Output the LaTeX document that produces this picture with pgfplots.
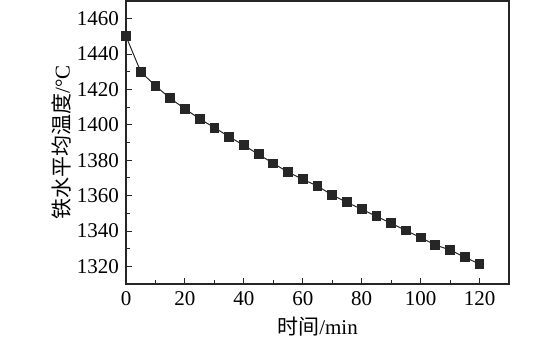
\documentclass[border=0pt]{standalone}
\usepackage{fontspec}
\setmainfont{Liberation Serif}
\newfontfamily\cjk{Noto Sans CJK SC}
\usepackage{pgfplots}
\pgfplotsset{compat=1.18}
\begin{document}
\begin{tikzpicture}
\begin{axis}[
  scale only axis,
  width=191.4pt, height=141.5pt,
  xmin=0, xmax=130, ymin=1310, ymax=1470,
  xtick={0,20,...,120}, ytick={1320,1340,...,1460},
  minor x tick num=1, minor y tick num=1,
  tick align=inside,
  xtick pos=bottom, ytick pos=left,
  major tick length=3pt, minor tick length=1.8pt,
  axis line style={line width=0.6pt, black!85},
  tick style={black!85, line width=0.5pt},
  /pgf/number format/assume math mode=true,
  /pgf/number format/1000 sep={},
  ticklabel style={font=\fontsize{10.5}{12}\selectfont},
  xlabel={{\cjk 时间}/min},
  ylabel={{\cjk 铁水平均温度}/°C},
  label style={font=\fontsize{10.5}{12}\selectfont},
  xlabel style={yshift=1pt},
  ylabel style={yshift=-4pt},
]
\addplot[black!85, line width=0.5pt, mark=square*, mark size=2.2pt, mark options={fill=black!85}]
coordinates {
(0,1450) (5,1430) (10,1422) (15,1415) (20,1409) (25,1403.4) (30,1398.4)
(35,1393.3) (40,1388.4) (45,1383.3) (50,1378.2) (55,1373.3) (60,1369.2)
(65,1365.4) (70,1360.3) (75,1356.2) (80,1352.3) (85,1348.3) (90,1344.4)
(95,1340.3) (100,1336.3) (105,1332.1) (110,1329.3) (115,1325.2) (120,1321.3)
};
\end{axis}
\path ([xshift=-63pt,yshift=-27pt]current axis.south west) rectangle ([xshift=25.5pt,yshift=0.5pt]current axis.north east);
\end{tikzpicture}
\end{document}
